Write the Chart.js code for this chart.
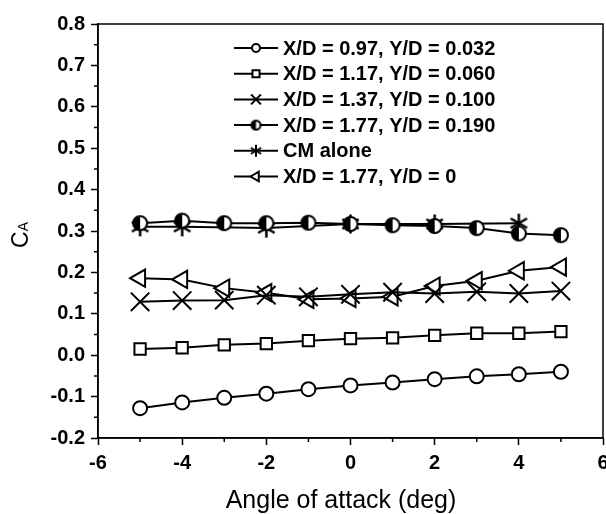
<!DOCTYPE html>
<html>
<head>
<meta charset="utf-8">
<script src="https://cdn.jsdelivr.net/npm/chart.js@4"></script>
<style>
  body { margin: 0; background: #fff; }
  #wrap { width: 606px; height: 514px; overflow: hidden; }
</style>
</head>
<body>
<div id="wrap"><canvas id="caChart" width="618" height="514"></canvas></div>
<script>
// angle of attack (deg)
var angles = [-5, -4, -3, -2, -1, 0, 1, 2, 3, 4, 5];
var cmAngles = [-5, -4, -2, 0, 2, 4];

// axial force coefficient for each store position
var caXD097 = [-0.128, -0.114, -0.103, -0.093, -0.082, -0.073, -0.066, -0.058, -0.051, -0.046, -0.040];
var caXD117 = [0.015, 0.018, 0.025, 0.028, 0.035, 0.040, 0.042, 0.048, 0.053, 0.053, 0.057];
var caXD137 = [0.129, 0.132, 0.133, 0.145, 0.141, 0.147, 0.152, 0.149, 0.153, 0.149, 0.155];
var caXD177 = [0.319, 0.325, 0.319, 0.319, 0.320, 0.317, 0.314, 0.312, 0.307, 0.294, 0.290];
var caCM = [0.310, 0.310, 0.307, 0.317, 0.317, 0.319];
var caXD177Y0 = [0.186, 0.183, 0.162, 0.151, 0.135, 0.137, 0.141, 0.167, 0.180, 0.204, 0.213];

var seriesLabels = [
    'X/D = 0.97, Y/D = 0.032',
    'X/D = 1.17, Y/D = 0.060',
    'X/D = 1.37, Y/D = 0.100',
    'X/D = 1.77, Y/D = 0.190',
    'CM alone',
    'X/D = 1.77, Y/D = 0'
];

var xTicks = [-6, -4, -2, 0, 2, 4, 6];
var yTicks = [-0.2, -0.1, 0.0, 0.1, 0.2, 0.3, 0.4, 0.5, 0.6, 0.7, 0.8];
var xTitle = 'Angle of attack (deg)';

var FONT = "'Liberation Sans', Arial, sans-serif";
Chart.defaults.font.family = FONT;
Chart.defaults.color = '#000';

function pts(xs, ys) {
    return xs.map(function (x, i) { return { x: x, y: ys[i] }; });
}

// half filled circle (left half black)
function halfCircle(r) {
    var c = document.createElement('canvas');
    var s = Math.ceil(2 * r + 4);
    c.width = s; c.height = s;
    var g = c.getContext('2d');
    var m = s / 2;
    g.fillStyle = '#fff';
    g.beginPath(); g.arc(m, m, r, 0, Math.PI * 2); g.fill();
    g.fillStyle = '#000';
    g.beginPath(); g.moveTo(m, m); g.arc(m, m, r, Math.PI / 2, Math.PI * 1.5); g.closePath(); g.fill();
    g.lineWidth = 2; g.strokeStyle = '#000';
    g.beginPath(); g.arc(m, m, r, 0, Math.PI * 2); g.stroke();
    return c;
}

// six armed asterisk
function asterisk(r, w) {
    var c = document.createElement('canvas');
    var s = Math.ceil(2 * r + 4);
    c.width = s; c.height = s;
    var g = c.getContext('2d');
    var m = s / 2;
    g.lineWidth = w; g.strokeStyle = '#000';
    [90, 30, 150].forEach(function (a) {
        var t = a * Math.PI / 180;
        g.beginPath();
        g.moveTo(m - Math.cos(t) * r, m - Math.sin(t) * r);
        g.lineTo(m + Math.cos(t) * r, m + Math.sin(t) * r);
        g.stroke();
    });
    return c;
}

var markers = [
    { pointStyle: 'circle', radius: 7, legendRadius: 4 },
    { pointStyle: 'rect', radius: 8, legendRadius: 5 },
    { pointStyle: 'crossRot', radius: 13, legendRadius: 7 },
    { pointStyle: halfCircle(7), radius: 7, legend: halfCircle(4.5) },
    { pointStyle: asterisk(9.5, 2.5), radius: 9, legend: asterisk(6, 2) },
    { pointStyle: 'triangle', radius: 10, rotation: -90, legendRadius: 5.5 }
];

function makeSet(i, data) {
    var m = markers[i];
    return {
        label: seriesLabels[i],
        data: data,
        borderColor: '#000',
        borderWidth: 2,
        backgroundColor: '#fff',
        pointStyle: m.pointStyle,
        pointRadius: m.radius,
        pointHoverRadius: m.radius,
        pointRotation: m.rotation || 0,
        pointBorderWidth: 2,
        pointBorderColor: '#000',
        pointBackgroundColor: '#fff',
        tension: 0,
        fill: false
    };
}

// legend, axis titles, minor ticks and box frame
var decorations = {
    id: 'decorations',
    afterDraw: function (chart) {
        var ctx = chart.ctx;
        var area = chart.chartArea;
        var xs = chart.scales.x, ys = chart.scales.y;
        ctx.save();
        ctx.strokeStyle = '#000';
        ctx.fillStyle = '#000';
        ctx.lineWidth = 1.5;
        ctx.strokeRect(area.left, area.top, area.right - area.left, area.bottom - area.top);

        ctx.beginPath();
        for (var v = -5; v <= 5; v += 2) {
            var px = xs.getPixelForValue(v);
            ctx.moveTo(px, area.bottom); ctx.lineTo(px, area.bottom + 4);
        }
        for (var k = 0; k < 10; k++) {
            var py = ys.getPixelForValue(-0.15 + k * 0.1);
            ctx.moveTo(area.left, py); ctx.lineTo(area.left - 4, py);
        }
        ctx.stroke();

        // x title
        ctx.font = '25px ' + FONT;
        ctx.textAlign = 'center';
        ctx.textBaseline = 'alphabetic';
        ctx.fillText(xTitle, 341, 508);

        // C_A
        ctx.save();
        ctx.translate(20, 235);
        ctx.rotate(-Math.PI / 2);
        ctx.textBaseline = 'alphabetic';
        ctx.textAlign = 'left';
        ctx.font = '23px ' + FONT;
        var cw = ctx.measureText('C').width;
        ctx.font = '14px ' + FONT;
        var aw = ctx.measureText('A').width;
        var x0 = -(cw + aw) / 2;
        ctx.font = '23px ' + FONT;
        ctx.fillText('C', x0, 8);
        ctx.font = '14px ' + FONT;
        ctx.fillText('A', x0 + cw, 8);
        ctx.restore();

        // legend
        var lx0 = 234, lx1 = 278, tx = 283, ly = 48, step = 25.7;
        ctx.font = 'bold 20px ' + FONT;
        ctx.textBaseline = 'middle';
        ctx.textAlign = 'left';
        chart.data.datasets.forEach(function (ds, i) {
            var y = ly + i * step;
            var m = markers[i];
            ctx.lineWidth = 2;
            ctx.beginPath(); ctx.moveTo(lx0, y); ctx.lineTo(lx1, y); ctx.stroke();
            ctx.fillStyle = '#fff';
            Chart.helpers.drawPoint(ctx, {
                pointStyle: m.legend || m.pointStyle,
                radius: m.legendRadius || 5,
                rotation: m.rotation || 0,
                borderWidth: 1.5
            }, (lx0 + lx1) / 2, y);
            ctx.fillStyle = '#000';
            ctx.fillText(ds.label, tx, y + 1);
        });
        ctx.restore();
    }
};

new Chart(document.getElementById('caChart').getContext('2d'), {
    type: 'line',
    data: {
        datasets: [
            makeSet(0, pts(angles, caXD097)),
            makeSet(1, pts(angles, caXD117)),
            makeSet(2, pts(angles, caXD137)),
            makeSet(3, pts(angles, caXD177)),
            makeSet(4, pts(cmAngles, caCM)),
            makeSet(5, pts(angles, caXD177Y0))
        ]
    },
    options: {
        responsive: false,
        animation: false,
        layout: { padding: { top: 24, right: 9, bottom: 0, left: 0 } },
        plugins: { legend: { display: false }, tooltip: { enabled: false } },
        scales: {
            x: {
                type: 'linear',
                min: -6,
                max: 6,
                afterBuildTicks: function (s) { s.ticks = xTicks.map(function (v) { return { value: v }; }); },
                afterFit: function (s) { s.height = 76; },
                ticks: {
                    font: { size: 20, weight: 'bold' },
                    padding: 6,
                    maxRotation: 0,
                    callback: function (v) { return String(v); }
                },
                grid: { drawOnChartArea: false, tickLength: 7, tickColor: '#000', tickWidth: 1.5 },
                border: { color: '#000', width: 1.5 }
            },
            y: {
                type: 'linear',
                min: -0.2,
                max: 0.8,
                afterBuildTicks: function (s) { s.ticks = yTicks.map(function (v) { return { value: v }; }); },
                afterFit: function (s) { s.width = 98; },
                ticks: {
                    font: { size: 20, weight: 'bold' },
                    padding: 6,
                    callback: function (v) { return Number(v).toFixed(1); }
                },
                grid: { drawOnChartArea: false, tickLength: 7, tickColor: '#000', tickWidth: 1.5 },
                border: { color: '#000', width: 1.5 }
            }
        }
    },
    plugins: [decorations]
});
</script>
</body>
</html>
